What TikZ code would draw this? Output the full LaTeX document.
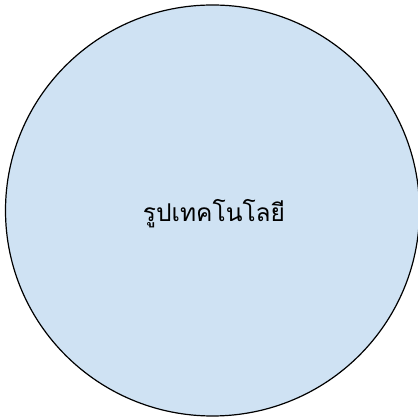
\documentclass[tikz,border=0pt]{standalone}
\usepackage{fontspec}
\usetikzlibrary{shapes.geometric}
\newfontfamily\thaifont[Script=Thai]{Loma}
\definecolor{circfill}{HTML}{CFE2F3}
\tikzset{bubble/.style={ellipse,draw=black,line width=1.2pt,fill=circfill,minimum width=414pt,minimum height=411pt,inner sep=0pt}}
\begin{document}
\begin{tikzpicture}[x=1pt,y=1pt]
\useasboundingbox (0,0) rectangle (417,419);
\node[bubble] (c) at (212.5,208.5) {};
\node[font=\thaifont\fontsize{24.5}{28}\selectfont] (t) at (214,205) {รูปเทคโนโลยี};
\end{tikzpicture}
\end{document}
